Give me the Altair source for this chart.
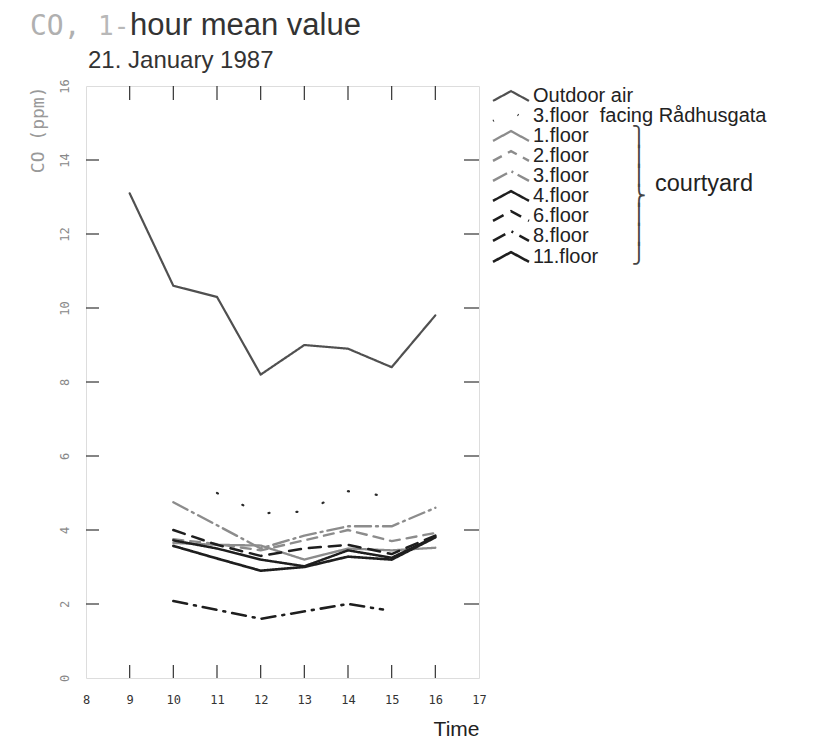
import altair as alt
import pandas as pd

# ---------------- data ----------------
series = ["Outdoor air", "3.floor\u00a0 facing Rådhusgata", "1.floor", "2.floor", "3.floor",
          "4.floor", "6.floor", "8.floor", "11.floor"]

hours_outdoor = [9, 10, 11, 12, 13, 14, 15, 16]
co_outdoor = [13.1, 10.6, 10.3, 8.2, 9.0, 8.9, 8.4, 9.8]

hours_facing = [11, 12, 13, 14, 15]
co_facing = [5.0, 4.45, 4.5, 5.05, 4.9]

hours_court = [10, 11, 12, 13, 14, 15, 16]
co_floor1 = [3.65, 3.6, 3.58, 3.2, 3.5, 3.45, 3.52]
co_floor2 = [3.75, 3.62, 3.45, 3.72, 4.0, 3.7, 3.92]
co_floor3 = [4.75, 4.13, 3.5, 3.85, 4.1, 4.1, 4.6]
co_floor4 = [3.72, 3.5, 3.2, 3.02, 3.45, 3.25, 3.82]
co_floor6 = [4.0, 3.6, 3.3, 3.5, 3.6, 3.35, 3.85]
co_floor11 = [3.57, 3.23, 2.9, 3.0, 3.28, 3.2, 3.8]

hours_floor8 = [10, 12, 14, 14.8]
co_floor8 = [2.08, 1.6, 2.0, 1.85]

x_ticks = [9, 10, 11, 12, 13, 14, 15, 16]
x_labels = [8, 9, 10, 11, 12, 13, 14, 15, 16, 17]
y_ticks = [2, 4, 6, 8, 10, 12, 14]
y_labels = [0, 2, 4, 6, 8, 10, 12, 14, 16]

# ---------------- styles ----------------
colors = ["#505050", "#2a2a2a", "#8c8c8c", "#8c8c8c", "#8c8c8c",
          "#1e1e1e", "#1e1e1e", "#1e1e1e", "#1e1e1e"]
dashes = [[1, 0], [1, 27], [1, 0], [10, 7], [16, 5, 2, 5],
          [1, 0], [12, 8], [14, 7, 2, 7], [1, 0]]
widths = [2.2, 2.6, 1.2, 1.2, 1.2, 2.2, 2.2, 1.7, 2.4]

rows = []
def add(name, hs, vs):
    for h, v in zip(hs, vs):
        rows.append({"series": name, "hour": h, "co": v})

add(series[0], hours_outdoor, co_outdoor)
add(series[1], hours_facing, co_facing)
add(series[2], hours_court, co_floor1)
add(series[3], hours_court, co_floor2)
add(series[4], hours_court, co_floor3)
add(series[5], hours_court, co_floor4)
add(series[6], hours_court, co_floor6)
add(series[7], hours_floor8, co_floor8)
add(series[8], hours_court, co_floor11)
df = pd.DataFrame(rows)

W, H = 393, 592
xscale = alt.Scale(domain=[8, 17], nice=False, zero=False)
yscale = alt.Scale(domain=[0, 16], nice=False)

chev = "M-2.4,0.65L0,-0.65L2.4,0.65"
leg = alt.Legend(orient="none", legendX=W + 22, legendY=0, title=None,
                 symbolType=chev, symbolSize=225, symbolFillColor="transparent",
                 labelFontSize=20, labelFont="Liberation Sans", labelColor="#222",
                 rowPadding=0, labelOffset=12, labelLimit=500, padding=0)

lines = alt.Chart(df).mark_line(strokeCap="round", strokeJoin="round").encode(
    x=alt.X("hour:Q", scale=xscale,
            axis=alt.Axis(values=x_labels, ticks=False, tickSize=0, domain=False, grid=False,
                          labelFont="DejaVu Sans Mono", labelFontSize=12, labelColor="#333",
                          labelPadding=16, labelFlush=False,
                          title="Time", titleFont="Liberation Sans", titleFontSize=21,
                          titleFontWeight="normal", titleColor="#222",
                          titleX=W, titleY=57, titleAlign="right", titleBaseline="alphabetic")),
    y=alt.Y("co:Q", scale=yscale,
            axis=alt.Axis(values=y_labels, ticks=False, tickSize=0, domain=False, grid=False,
                          labelAngle=270, labelAlign="center", labelBaseline="middle",
                          labelFont="DejaVu Sans Mono", labelFontSize=12, labelColor="#888",
                          labelPadding=22, labelFlush=False,
                          title="CO (ppm)", titleFont="DejaVu Sans Mono", titleFontSize=18,
                          titleFontWeight="normal", titleColor="#999", titleAngle=270,
                          titleX=-48, titleY=0, titleAlign="right", titleBaseline="middle")),
    color=alt.Color("series:N", scale=alt.Scale(domain=series, range=colors), legend=leg),
    strokeDash=alt.StrokeDash("series:N", scale=alt.Scale(domain=series, range=dashes), legend=leg),
    strokeWidth=alt.StrokeWidth("series:N", scale=alt.Scale(domain=series, range=widths), legend=leg),
    order=alt.Order("hour:Q"),
)

# inward ticks on all four sides
xt = pd.DataFrame({"v": x_ticks})
yt = pd.DataFrame({"v": y_ticks})
tick_col = "#333"
t_bottom = alt.Chart(xt).mark_rule(color=tick_col, strokeWidth=1.2).encode(
    x=alt.X("v:Q", scale=xscale), y=alt.value(H), y2=alt.value(H - 13))
t_top = alt.Chart(xt).mark_rule(color=tick_col, strokeWidth=1.2).encode(
    x=alt.X("v:Q", scale=xscale), y=alt.value(0), y2=alt.value(14))
t_left = alt.Chart(yt).mark_rule(color=tick_col, strokeWidth=1.2).encode(
    y=alt.Y("v:Q", scale=yscale), x=alt.value(0), x2=alt.value(13))
t_right = alt.Chart(yt).mark_rule(color=tick_col, strokeWidth=1.2).encode(
    y=alt.Y("v:Q", scale=yscale), x=alt.value(W - 15), x2=alt.value(W))

# title pieces
def txt(s, x, y, size, color, font, align="left", baseline="alphabetic", **kw):
    return alt.Chart(pd.DataFrame({"t": [s]})).mark_text(
        align=align, baseline=baseline, fontSize=size, color=color, font=font, **kw
    ).encode(text="t:N", x=alt.value(x), y=alt.value(y))

title1 = txt("CO,", -56, -51, 28, "#b0b0b0", "DejaVu Sans Mono")
title2 = txt("1-", 12, -51, 26, "#b8b8b8", "DejaVu Sans Mono")
title3 = txt("hour mean value", 44, -51, 31, "#333333", "Liberation Sans")
subtitle = txt("21. January 1987", 2, -18, 24, "#333333", "Liberation Sans")
court = txt("courtyard", 569, 98, 23.5, "#222222", "Liberation Sans", baseline="middle")
brace = txt("⎫\n⎪\n⎪\n⎬\n⎪\n⎪\n⎭", 553, 42, 19.5, "#444444", "DejaVu Sans",
            align="center", baseline="top", lineBreak="\n", lineHeight=19.5)

chart = alt.layer(
    t_bottom, t_top, t_left, t_right, lines,
    title1, title2, title3, subtitle, court, brace,
).properties(
    width=W, height=H,
    autosize=alt.AutoSizeParams(type="none"),
    padding={"left": 78, "top": 78, "right": 343, "bottom": 60},
).configure_view(stroke="#333", strokeWidth=1.3).configure(background="white")

chart.save("out.html", embed_options={"renderer": "svg", "actions": False})
